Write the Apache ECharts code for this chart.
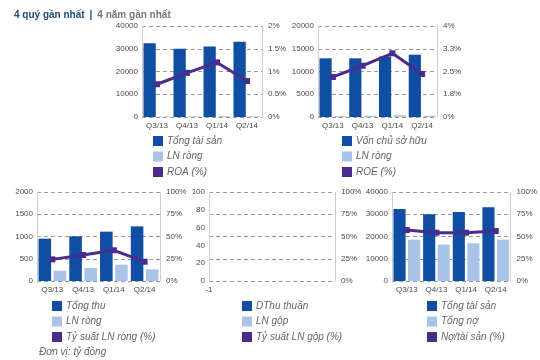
<!DOCTYPE html>
<html>
<head>
<meta charset="utf-8">
<script src="https://cdn.jsdelivr.net/npm/echarts@6/dist/echarts.min.js"></script>
<style>
html,body{margin:0;padding:0;background:#fff;}
#c{width:540px;height:360px;}
</style>
</head>
<body>
<div id="c"></div>
<script>
// ---- data ----
const cats = ['Q3/13', 'Q4/13', 'Q1/14', 'Q2/14'];
const emptyCats = ['-1', ''];
const tongTaiSan = [32400, 30000, 31000, 33100];
const lnRong = [232, 292, 367, 262];
const roa = [0.72, 0.97, 1.2, 0.79];
const vonCSH = [12900, 12900, 13300, 13700];
const roe = [2.32, 2.69, 3.10, 2.42];
const tongThu = [951, 1004, 1109, 1228];
const tySuatLNRong = [24.3, 29.2, 34.5, 21.7];
const dThuThuan = [];
const lnGop = [];
const tySuatLNGop = [];
const tongNo = [18600, 16400, 16950, 18600];
const noTaiSan = [57.2, 54.3, 54.3, 56.1];

const leftTicks1 = ['0', '10000', '20000', '30000', '40000'];
const rightTicks1 = ['0%', '0.5%', '1%', '1.5%', '2%'];
const leftTicks2 = ['0', '5000', '10000', '15000', '20000'];
const rightTicks2 = ['0%', '1.8%', '2.5%', '3.3%', '4%'];
const leftTicks3 = ['0', '500', '1000', '1500', '2000'];
const leftTicks4 = ['0', '20', '40', '60', '80', '100'];
const pctTicks = ['0%', '25%', '50%', '75%', '100%'];

// ---- styles ----
const DARK = '#0f4ea3';
const LIGHT = '#a9c4e9';
const PURPLE = '#4a2b8e';
const FONT = 'Liberation Sans, Arial, sans-serif';
const labelStyle = { color: '#4a4a4a', fontSize: 8, fontFamily: FONT };
const dashed = { show: true, lineStyle: { color: '#9a9a9a', type: [4, 3], width: 1 } };

const grids = [
  { left: 142, top: 26, width: 120, height: 91 },
  { left: 318, top: 26, width: 119, height: 91 },
  { left: 37, top: 192, width: 123, height: 89 },
  { left: 209, top: 192, width: 126, height: 89 },
  { left: 392, top: 192, width: 120, height: 89 }
];

function xAx(i, data) {
  return {
    type: 'category', gridIndex: i, data: data, boundaryGap: data === cats,
    axisLine: { show: false }, axisTick: { show: false },
    axisLabel: Object.assign({ margin: 5 }, labelStyle)
  };
}
function yAx(i, max, interval, ticks, pos, split, min) {
  return {
    type: 'value', gridIndex: i, min: min || 0, max: max, interval: interval, position: pos,
    axisLine: { show: true, lineStyle: { color: '#cfcfcf' } },
    axisTick: { show: false },
    splitLine: split ? dashed : { show: false },
    axisLabel: Object.assign({ margin: pos === 'left' ? 4 : 6, formatter: (v, idx) => ticks[idx] }, labelStyle)
  };
}
const barCommon = { type: 'bar', barCategoryGap: '10%', barGap: '20%' };
function bars(i, name, data, color, yi) {
  return Object.assign({ name: name, xAxisIndex: i, yAxisIndex: yi, data: data, itemStyle: { color: color } }, barCommon);
}
function line(i, name, data, yi) {
  return {
    type: 'line', name: name, xAxisIndex: i, yAxisIndex: yi, data: data, z: 5,
    symbol: 'rect', symbolSize: 6, showSymbol: true,
    lineStyle: { color: PURPLE, width: 3 }, itemStyle: { color: PURPLE }
  };
}
function legend(left, top, names) {
  return {
    orient: 'vertical', left: left, top: top, data: names, icon: 'rect',
    itemWidth: 10, itemHeight: 10, itemGap: 5.5, padding: 0, selectedMode: false,
    textStyle: { color: '#666', fontSize: 10, fontStyle: 'italic', fontFamily: FONT, padding: [0, 0, 0, -1] }
  };
}

const option = {
  animation: false,
  title: {
    left: 14, top: 6, padding: 0,
    text: '{a|4 quý gần nhất} {b||} {c|4 năm gần nhất}',
    textStyle: {
      rich: {
        a: { fontWeight: 'bold', color: '#1d4a78', fontSize: 10, fontFamily: FONT },
        b: { fontWeight: 'bold', color: '#1d4a78', fontSize: 10, fontFamily: FONT },
        c: { color: '#777', fontSize: 10, fontFamily: FONT }
      }
    }
  },
  graphic: [{
    type: 'text', left: 39, top: 347,
    style: { text: 'Đơn vị: tỷ đồng', fill: '#666', fontSize: 10, fontStyle: 'italic', fontFamily: FONT }
  }],
  grid: grids,
  xAxis: [xAx(0, cats), xAx(1, cats), xAx(2, cats), xAx(3, emptyCats), xAx(4, cats)],
  yAxis: [
    yAx(0, 40000, 10000, leftTicks1, 'left', true),
    yAx(0, 2, 0.5, rightTicks1, 'right', false),
    yAx(1, 20000, 5000, leftTicks2, 'left', true),
    yAx(1, 4, 0.75, rightTicks2, 'right', false, 1),
    yAx(2, 2000, 500, leftTicks3, 'left', true),
    yAx(2, 100, 25, pctTicks, 'right', false),
    yAx(3, 100, 20, leftTicks4, 'left', false),
    yAx(3, 100, 25, pctTicks, 'right', true),
    yAx(4, 40000, 10000, leftTicks1, 'left', true),
    yAx(4, 100, 25, pctTicks, 'right', false)
  ],
  legend: [
    legend(153, 136, ['Tổng tài sản', 'LN ròng', 'ROA (%)']),
    legend(342, 136, ['Vốn chủ sở hữu', 'LN ròng', 'ROE (%)']),
    legend(52, 301, ['Tổng thu', 'LN ròng', 'Tỷ suất LN ròng (%)']),
    legend(242, 301, ['DThu thuần', 'LN gộp', 'Tỷ suất LN gộp (%)']),
    legend(427, 301, ['Tổng tài sản', 'Tổng nợ', 'Nợ/tài sản (%)'])
  ],
  series: [
    bars(0, 'Tổng tài sản', tongTaiSan, DARK, 0),
    bars(0, 'LN ròng', lnRong, LIGHT, 0),
    line(0, 'ROA (%)', roa, 1),
    bars(1, 'Vốn chủ sở hữu', vonCSH, DARK, 2),
    bars(1, 'LN ròng', lnRong, LIGHT, 2),
    line(1, 'ROE (%)', roe, 3),
    bars(2, 'Tổng thu', tongThu, DARK, 4),
    bars(2, 'LN ròng', lnRong, LIGHT, 4),
    line(2, 'Tỷ suất LN ròng (%)', tySuatLNRong, 5),
    bars(3, 'DThu thuần', dThuThuan, DARK, 6),
    bars(3, 'LN gộp', lnGop, LIGHT, 6),
    line(3, 'Tỷ suất LN gộp (%)', tySuatLNGop, 7),
    bars(4, 'Tổng tài sản', tongTaiSan, DARK, 8),
    bars(4, 'Tổng nợ', tongNo, LIGHT, 8),
    line(4, 'Nợ/tài sản (%)', noTaiSan, 9)
  ]
};
const chart = echarts.init(document.getElementById('c'), null, { renderer: 'canvas' });
chart.setOption(option);
</script>
</body>
</html>
